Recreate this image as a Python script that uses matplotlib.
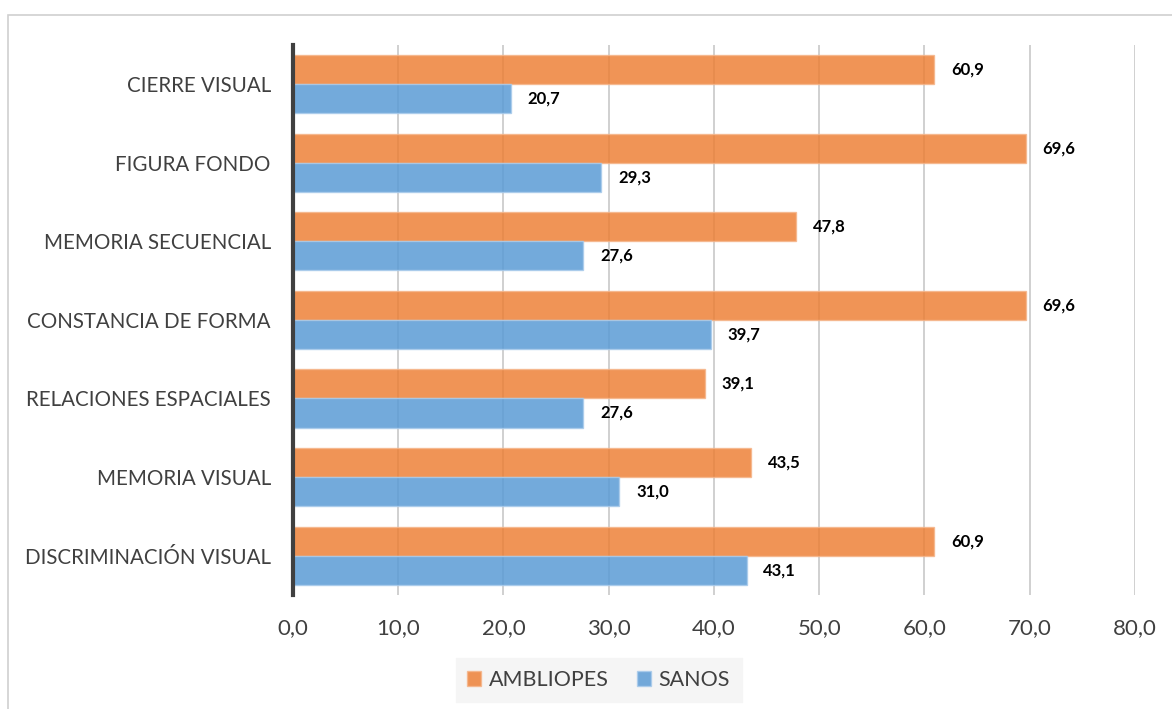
import numpy as np
import matplotlib

matplotlib.use('Agg')

import matplotlib.pyplot as plt
from matplotlib.patches import Rectangle

plt.rcParams['font.family'] = ['Lato', 'DejaVu Sans']

# datos
categorias = ["CIERRE VISUAL", "FIGURA FONDO", "MEMORIA SECUENCIAL", "CONSTANCIA DE FORMA",
              "RELACIONES ESPACIALES", "MEMORIA VISUAL", "DISCRIMINACIÓN VISUAL"]
ambliopes = [60.9, 69.6, 47.8, 69.6, 39.1, 43.5, 60.9]
sanos = [20.7, 29.3, 27.6, 39.7, 27.6, 31.0, 43.1]
xticks = [0, 10, 20, 30, 40, 50, 60, 70, 80]


def fmt(v):
    return f"{v:.1f}".replace('.', ',')


fig = plt.figure(figsize=(11.72, 7.09), dpi=100)
ax = fig.add_axes([0.25, 0.161, 0.7184, 0.7755])

# marco exterior
fig.patches.append(Rectangle((8 / 1172, -0.1), 1.2, 1 - 15 / 709 + 0.1, transform=fig.transFigure,
                             fill=False, edgecolor='#d0d0d0', linewidth=1.2))

y = np.arange(len(categorias))
h = 0.37
ax.barh(y - h / 2, ambliopes, height=h, color='#ED7D31', alpha=0.82,
        edgecolor='#F5B58A', linewidth=1, label='AMBLIOPES', zorder=2)
ax.barh(y + h / 2, sanos, height=h, color='#5B9BD5', alpha=0.85,
        edgecolor='#A9CBEB', linewidth=1, label='SANOS', zorder=2)

for i in range(len(categorias)):
    ax.text(ambliopes[i] + 1.6, y[i] - h / 2, fmt(ambliopes[i]), va='center', ha='left',
            fontsize=12, fontweight='bold', color='black')
    ax.text(sanos[i] + 1.6, y[i] + h / 2, fmt(sanos[i]), va='center', ha='left',
            fontsize=12, fontweight='bold', color='black')

ax.set_ylim(len(categorias) - 0.5, -0.5)
ax.set_xlim(0, 80)
ax.set_yticks(y)
ax.set_yticklabels(categorias, fontsize=14.8, color='#404040')
ax.set_xticks(xticks)
ax.set_xticklabels([fmt(v) for v in xticks], fontsize=16, color='#404040')
ax.tick_params(axis='both', length=0)
ax.tick_params(axis='y', pad=16)
ax.tick_params(axis='x', pad=17)

ax.grid(axis='x', color='#c8c8c8', linewidth=1.2, zorder=1)
ax.set_axisbelow(True)
for s in ['top', 'right', 'bottom']:
    ax.spines[s].set_visible(False)
ax.spines['left'].set_color('#404040')
ax.spines['left'].set_linewidth(3)
ax.spines['left'].set_zorder(3)

leg = ax.legend(loc='center', bbox_to_anchor=(0.363, -0.155), ncol=2, fontsize=15.5,
                frameon=True, fancybox=False, handlelength=0.65, handleheight=0.65,
                handletextpad=0.35, columnspacing=1.3, borderpad=0.55, borderaxespad=0)
leg.get_frame().set_facecolor('#f5f5f5')
leg.get_frame().set_edgecolor('#f5f5f5')
leg.get_frame().set_alpha(1)
for t in leg.get_texts():
    t.set_color('#404040')

fig.savefig('out.png', dpi=100)
